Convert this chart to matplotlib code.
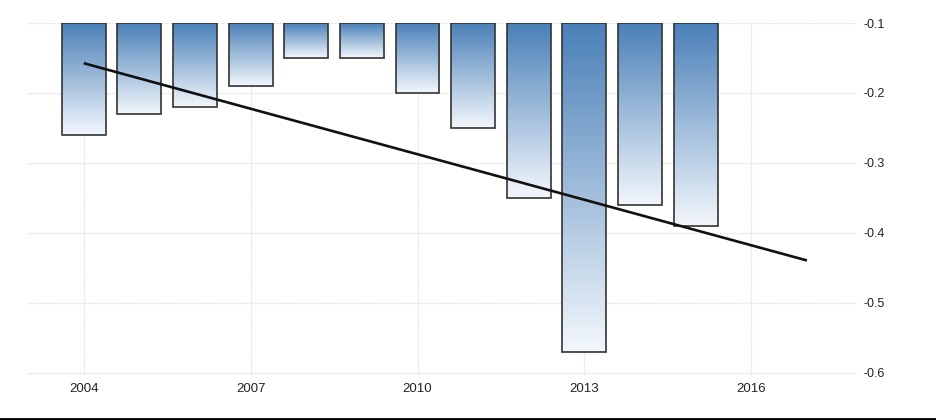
import numpy as np
import matplotlib
matplotlib.use("Agg")
import matplotlib.pyplot as plt
from matplotlib.colors import LinearSegmentedColormap
from matplotlib.lines import Line2D

years = [2004, 2005, 2006, 2007, 2008, 2009, 2010, 2011, 2012, 2013, 2014, 2015]
values = [-0.26, -0.23, -0.22, -0.19, -0.15, -0.15, -0.20, -0.25, -0.35, -0.57, -0.36, -0.39]
base = -0.1
trend_end_year = 2017
xticks = [2004, 2007, 2010, 2013, 2016]
yticks = [-0.1, -0.2, -0.3, -0.4, -0.5, -0.6]

plt.rcParams['font.family'] = ['Liberation Sans', 'DejaVu Sans']

fig = plt.figure(figsize=(9.37, 4.2), dpi=100)
ax = fig.add_axes([27/937, 1-375/420, (857-27)/937, (375-23)/420])

cmap = LinearSegmentedColormap.from_list("g", ["#f3f7fc", "#4a80b8"])
grad = np.linspace(0, 1, 256).reshape(-1, 1)
width = 0.79
bars = ax.bar(years, np.array(values) - base, bottom=base, width=width,
              facecolor='none', edgecolor='#333333', linewidth=1.2, zorder=3)
for b in bars:
    x0, y0 = b.get_x(), b.get_y()
    w, h = b.get_width(), b.get_height()
    ylo, yhi = min(y0, y0 + h), max(y0, y0 + h)
    im = ax.imshow(grad, extent=[x0, x0 + w, ylo, yhi], origin='lower',
                   cmap=cmap, aspect='auto', zorder=2, interpolation='bilinear')
    im.set_clip_path(b)

# linear trend (least squares) extended to trend_end_year
coef = np.polyfit(years, values, 1)
tx = np.array([years[0], trend_end_year])
ax.plot(tx, np.polyval(coef, tx), color='#111111', linewidth=1.9, zorder=4,
        solid_capstyle='butt')

ax.set_xlim(2002.98, 2017.9)
ax.set_ylim(-0.6029, -0.1)
ax.set_xticks(xticks)
ax.set_xticklabels([str(t) for t in xticks], fontsize=9.5, color='#222222')
ax.set_yticks(yticks)
ax.set_yticklabels([f"{t:.1f}" for t in yticks], fontsize=9, color='#222222')
ax.yaxis.tick_right()
ax.tick_params(axis='both', length=0)
ax.tick_params(axis='x', pad=6)
ax.tick_params(axis='y', pad=5)
ax.grid(True, color='#dddddd', linestyle=(0, (1, 1)), linewidth=0.9, zorder=0)
ax.set_axisbelow(True)
for s in ax.spines.values():
    s.set_visible(False)

fig.add_artist(Line2D([0, 1], [1.5/420, 1.5/420], transform=fig.transFigure,
                      color='black', linewidth=2))

fig.savefig("out.png", dpi=100)
